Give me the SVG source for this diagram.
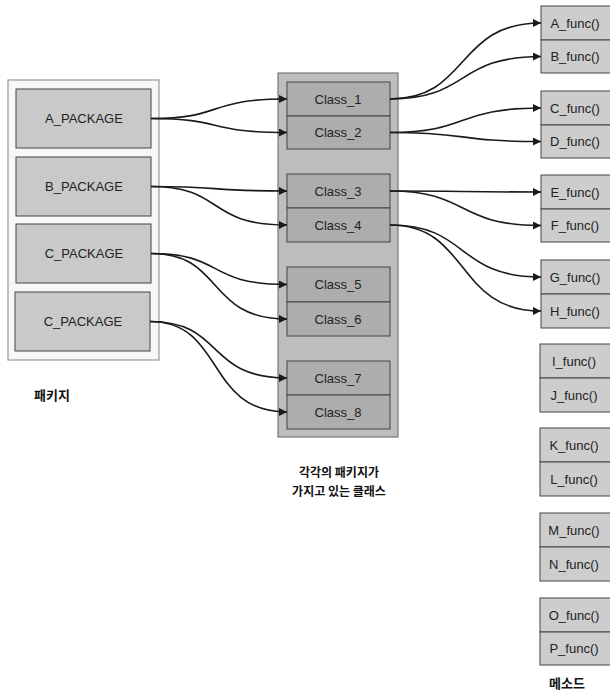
<svg xmlns="http://www.w3.org/2000/svg" width="610" height="693" viewBox="0 0 610 693">
<defs>
<marker id="arr" viewBox="0 0 10 10" refX="10" refY="5" markerWidth="9" markerHeight="8" markerUnits="userSpaceOnUse" orient="auto">
<path d="M0,0 L10,5 L0,10 z" fill="#1a1a1a"/>
</marker>
</defs>
<style>
.t{font-family:"Liberation Sans",Arial,sans-serif;font-size:13px;fill:#222;text-anchor:middle;dominant-baseline:central}
.k{font-family:"Noto Sans CJK KR","Noto Sans",sans-serif;font-size:12px;fill:#111;text-anchor:middle;font-weight:bold}
.pk{fill:#c9c9c9;stroke:#444;stroke-width:1}
.frame{fill:#f7f7f7;stroke:#999;stroke-width:1.2}
.cont{fill:#bdbdbd;stroke:#777;stroke-width:1.2}
.cl{fill:#adadad;stroke:#444;stroke-width:1}
.fn{fill:#cdcdcd;stroke:#444;stroke-width:1}
.c{fill:none;stroke:#1a1a1a;stroke-width:1.6;marker-end:url(#arr)}
</style>
<rect width="610" height="693" fill="#fff"/>

<g id="packages">
<rect class="frame" x="8" y="80" width="151" height="280"/>
<g id="pkgA"><rect class="pk" x="16" y="89" width="135" height="59"/><text class="t" x="84" y="118.5">A_PACKAGE</text></g>
<g id="pkgB"><rect class="pk" x="16" y="157" width="135" height="59"/><text class="t" x="84" y="186.5">B_PACKAGE</text></g>
<g id="pkgC"><rect class="pk" x="16" y="224" width="135" height="59"/><text class="t" x="84" y="253.5">C_PACKAGE</text></g>
<g id="pkgC2"><rect class="pk" x="15" y="292" width="135" height="59"/><text class="t" x="83" y="321.5">C_PACKAGE</text></g>
<text class="k" x="52" y="400" style="font-size:13px">패키지</text>
</g>

<g id="classes">
<rect class="cont" x="278" y="73" width="120" height="364"/>
<g id="class1"><rect class="cl" x="287" y="82" width="103" height="34"/><text class="t" x="338" y="99">Class_1</text></g>
<g id="class2"><rect class="cl" x="287" y="116" width="103" height="33"/><text class="t" x="338" y="132.5">Class_2</text></g>
<g id="class3"><rect class="cl" x="287" y="174" width="103" height="34"/><text class="t" x="338" y="191">Class_3</text></g>
<g id="class4"><rect class="cl" x="287" y="208" width="103" height="34"/><text class="t" x="338" y="225">Class_4</text></g>
<g id="class5"><rect class="cl" x="287" y="267" width="103" height="35"/><text class="t" x="338" y="284.5">Class_5</text></g>
<g id="class6"><rect class="cl" x="287" y="302" width="103" height="34"/><text class="t" x="338" y="319">Class_6</text></g>
<g id="class7"><rect class="cl" x="287" y="361" width="103" height="34"/><text class="t" x="338" y="378">Class_7</text></g>
<g id="class8"><rect class="cl" x="287" y="395" width="103" height="34"/><text class="t" x="338" y="412">Class_8</text></g>
<text class="k" x="339" y="477">각각의 패키지가</text>
<text class="k" x="339" y="496">가지고 있는 클래스</text>
</g>

<g id="methods">
<g id="fA"><rect class="fn" x="541" y="6" width="80" height="34"/><text class="t" x="575" y="23">A_func()</text></g>
<g id="fB"><rect class="fn" x="541" y="40" width="80" height="33"/><text class="t" x="575" y="56.5">B_func()</text></g>
<g id="fC"><rect class="fn" x="541" y="91" width="80" height="34"/><text class="t" x="575" y="108">C_func()</text></g>
<g id="fD"><rect class="fn" x="541" y="125" width="80" height="33"/><text class="t" x="575" y="141.5">D_func()</text></g>
<g id="fE"><rect class="fn" x="541" y="175" width="80" height="34"/><text class="t" x="575" y="192">E_func()</text></g>
<g id="fF"><rect class="fn" x="541" y="209" width="80" height="33"/><text class="t" x="575" y="225.5">F_func()</text></g>
<g id="fG"><rect class="fn" x="541" y="260" width="80" height="34"/><text class="t" x="575" y="277">G_func()</text></g>
<g id="fH"><rect class="fn" x="541" y="294" width="80" height="34"/><text class="t" x="575" y="311">H_func()</text></g>
<g id="fI"><rect class="fn" x="540" y="344" width="80" height="34"/><text class="t" x="574" y="361">I_func()</text></g>
<g id="fJ"><rect class="fn" x="540" y="378" width="80" height="34"/><text class="t" x="574" y="395">J_func()</text></g>
<g id="fK"><rect class="fn" x="540" y="428" width="80" height="34"/><text class="t" x="574" y="445">K_func()</text></g>
<g id="fL"><rect class="fn" x="540" y="462" width="80" height="34"/><text class="t" x="574" y="479">L_func()</text></g>
<g id="fM"><rect class="fn" x="540" y="513" width="80" height="34"/><text class="t" x="574" y="530">M_func()</text></g>
<g id="fN"><rect class="fn" x="540" y="547" width="80" height="34"/><text class="t" x="574" y="564">N_func()</text></g>
<g id="fO"><rect class="fn" x="540" y="598" width="80" height="34"/><text class="t" x="574" y="615">O_func()</text></g>
<g id="fP"><rect class="fn" x="540" y="632" width="80" height="33"/><text class="t" x="574" y="648.5">P_func()</text></g>
<text class="k" x="567" y="688" style="font-size:13px">메소드</text>
</g>

<g id="connectors">
<path class="c" d="M151,118.5 C225,118.5 205,99 287,99"/>
<path class="c" d="M151,118.5 C225,118.5 205,132.5 287,132.5"/>
<path class="c" d="M151,186.5 C225,186.5 205,191 287,191"/>
<path class="c" d="M151,186.5 C225,186.5 205,225 287,225"/>
<path class="c" d="M151,253.5 C225,253.5 205,284.5 287,284.5"/>
<path class="c" d="M151,253.5 C225,253.5 205,319 287,319"/>
<path class="c" d="M150,321.5 C225,321.5 205,378 287,378"/>
<path class="c" d="M150,321.5 C225,321.5 205,412 287,412"/>
<path class="c" d="M390,99 C470,99 455,23 541,23"/>
<path class="c" d="M390,99 C470,99 455,56.5 541,56.5"/>
<path class="c" d="M390,132.5 C470,132.5 455,108 541,108"/>
<path class="c" d="M390,132.5 C470,132.5 455,141.5 541,141.5"/>
<path class="c" d="M390,191 C470,191 455,192 541,192"/>
<path class="c" d="M390,191 C470,191 455,225.5 541,225.5"/>
<path class="c" d="M390,225 C470,225 455,277 541,277"/>
<path class="c" d="M390,225 C470,225 455,311 541,311"/>
</g>
</svg>
